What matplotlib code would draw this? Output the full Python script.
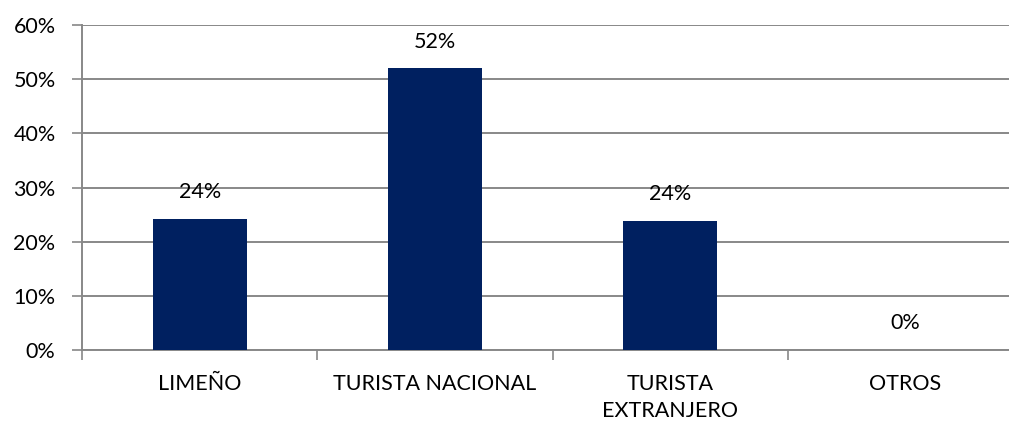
import numpy as np
import matplotlib.pyplot as plt
from matplotlib.ticker import FixedLocator, PercentFormatter

categories = ["LIMEÑO", "TURISTA NACIONAL", "TURISTA\nEXTRANJERO", "OTROS"]
values = [24.2, 52.0, 23.8, 0.0]
labels = ["24%", "52%", "24%", "0%"]

plt.rcParams['font.family'] = ['Lato', 'DejaVu Sans']

fig = plt.figure(figsize=(10.09, 4.25), dpi=100)
ax = fig.add_axes([82 / 1009, 75 / 425, 941 / 1009, 325 / 425])

x = np.arange(len(categories))
ax.bar(x, values, width=0.4, color="#002060", zorder=3)

for xi, v, lab in zip(x, values, labels):
    ax.annotate(lab, (xi, v), xytext=(0, 12), textcoords="offset points",
                ha="center", va="bottom", fontsize=15.5, color="black")

ax.set_xlim(-0.5, len(categories) - 0.5)
ax.set_ylim(0, 60)
ax.set_yticks(range(0, 61, 10))
ax.yaxis.set_major_formatter(PercentFormatter(decimals=0))
ax.yaxis.grid(True, color="#888888", linewidth=1.4, zorder=0)

ax.set_xticks(x)
ax.set_xticklabels(categories, linespacing=1.45)
ax.xaxis.set_minor_locator(FixedLocator(np.arange(-0.5, len(categories), 1)))
ax.tick_params(axis="x", which="major", length=0, pad=17, labelsize=15.5)
ax.tick_params(axis="x", which="minor", length=7, width=1.2, color="#888888")
ax.tick_params(axis="y", length=7, width=1.2, color="#888888", pad=12, labelsize=15.5)

for s in ["top", "right"]:
    ax.spines[s].set_visible(False)
for s in ["left", "bottom"]:
    ax.spines[s].set_color("#888888")
    ax.spines[s].set_linewidth(1.4)

fig.savefig("out.png", dpi=100)
